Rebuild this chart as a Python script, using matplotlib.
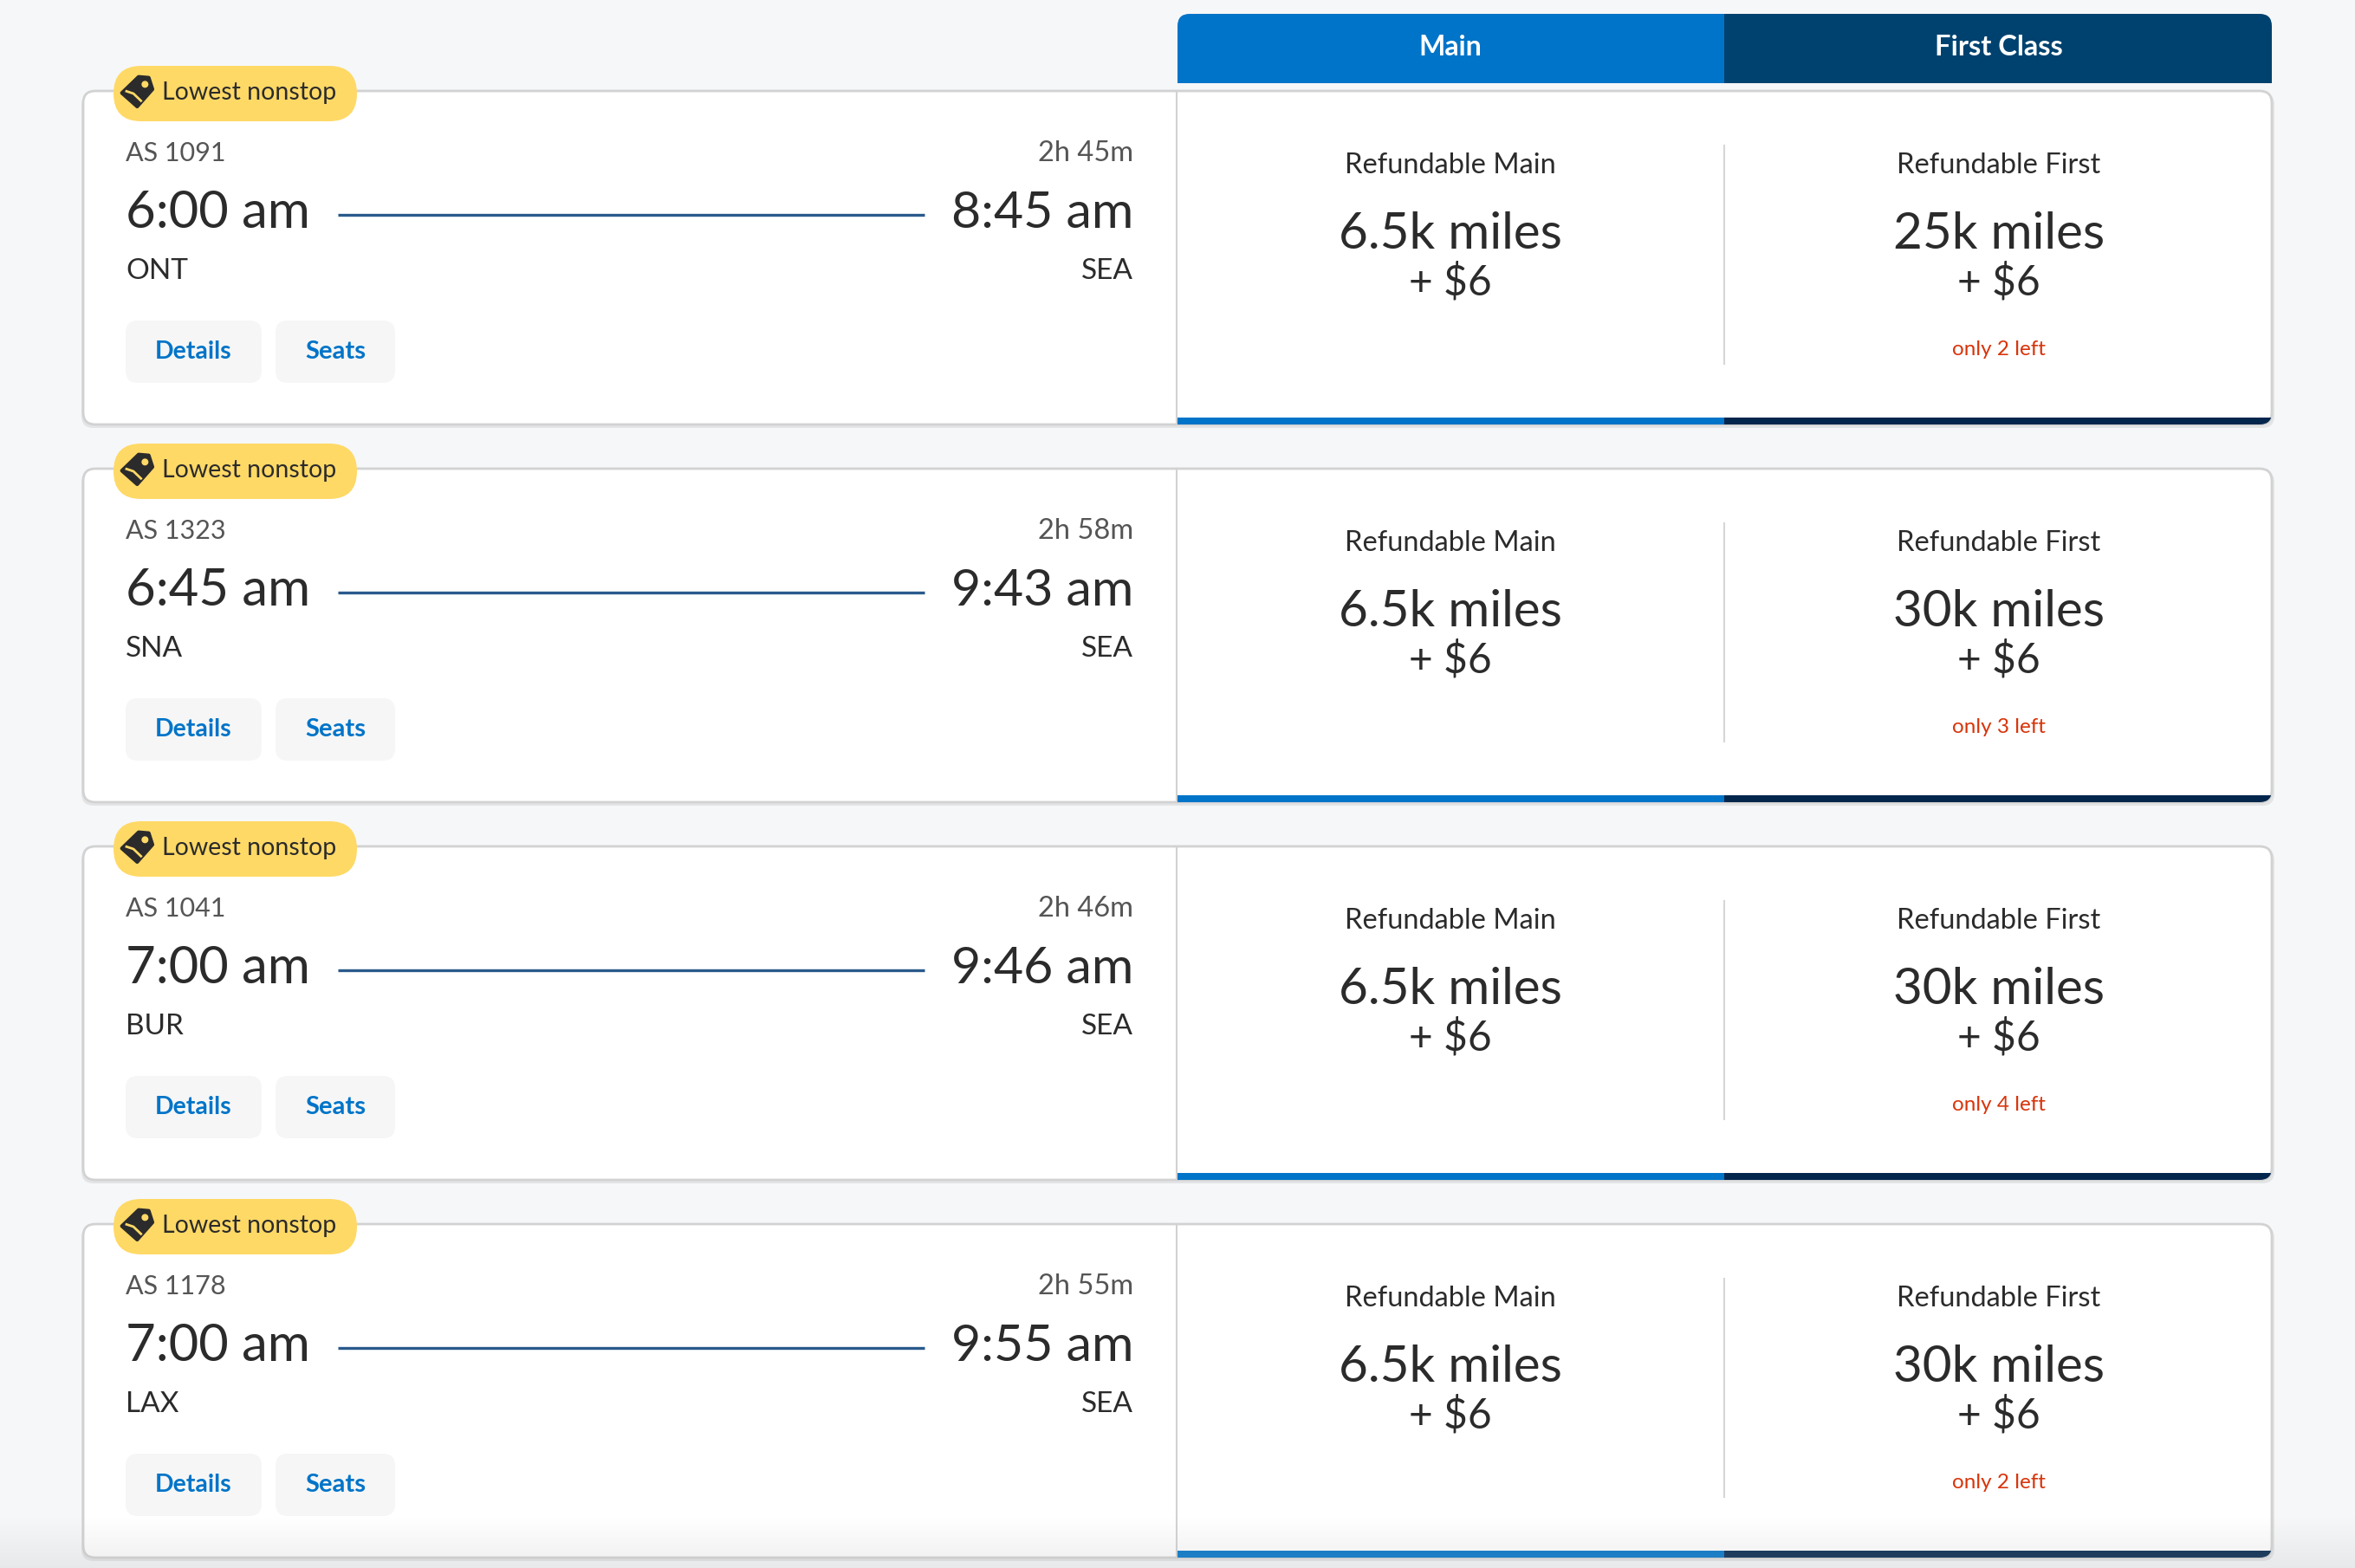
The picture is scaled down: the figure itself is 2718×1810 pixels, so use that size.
import numpy as np
import matplotlib
matplotlib.use("Agg")
import matplotlib.pyplot as plt
from matplotlib.patches import FancyBboxPatch, Rectangle, Polygon, Circle

plt.rcParams["font.family"] = ["Lato", "DejaVu Sans"]

flights = ["AS 1091", "AS 1323", "AS 1041", "AS 1178"]
durations = ["2h 45m", "2h 58m", "2h 46m", "2h 55m"]
departs = ["6:00 am", "6:45 am", "7:00 am", "7:00 am"]
arrives = ["8:45 am", "9:43 am", "9:46 am", "9:55 am"]
origins = ["ONT", "SNA", "BUR", "LAX"]
destinations = ["SEA", "SEA", "SEA", "SEA"]
main_miles = ["6.5k miles", "6.5k miles", "6.5k miles", "6.5k miles"]
first_miles = ["25k miles", "30k miles", "30k miles", "30k miles"]
fees = ["+ $6", "+ $6", "+ $6", "+ $6"]
seats_left = ["only 2 left", "only 3 left", "only 4 left", "only 2 left"]
cabins = ["Main", "First Class"]

BG = "#f6f7f9"
INK = "#2b2b2b"
BLUE = "#0074c8"
NAVY = "#00426f"
DARK_BAR = "#03264d"
GREY_TEXT = "#555555"
RED = "#d8350b"

W, H = 2718, 1810
LEFT, RIGHT, DIV, MID = 96, 2622, 1359, 1990
MAIN_X, FIRST_X = 1674, 2307
PITCH = 436
CARD_H = 385

fig = plt.figure(figsize=(W / 100, H / 100), dpi=100, facecolor=BG)
ax = fig.add_axes([0, 0, 1, 1])
ax.set_xlim(0, W)
ax.set_ylim(H, 0)
ax.axis("off")


def rounded(x0, y0, x1, y1, r, **kw):
    p = FancyBboxPatch((x0 + r, y0 + r), x1 - x0 - 2 * r, y1 - y0 - 2 * r,
                       boxstyle=f"round,pad={r},rounding_size={r}", **kw)
    ax.add_patch(p)
    return p


def label(x, y, s, size, color=INK, ha="left", weight="normal"):
    return ax.text(x, y, s, fontsize=size, color=color, ha=ha, va="baseline",
                   fontweight=weight, zorder=6)


def draw_tag(top):
    # tag icon outline, traced from the badge
    y0 = top - 57
    pts = [(240, 122), (275, 125), (288, 165), (235, 225), (182, 178)]
    xy = [(80 + x / 3, y0 + y / 3) for x, y in pts]
    ax.add_patch(Polygon(xy, closed=True, fc=INK, ec=INK, lw=3, joinstyle="round", zorder=6))
    ax.add_patch(Circle((80 + 262 / 3, y0 + 148 / 3), 4, fc="#ffd966", ec="none", zorder=7))
    ax.plot([80 + 198 / 3, 80 + 222 / 3, 80 + 248 / 3],
            [y0 + 172 / 3, y0 + 180 / 3, y0 + 205 / 3],
            color="#ffd966", lw=2, zorder=7)


# cabin header
header = rounded(DIV, 16, RIGHT, 120, 14, fc="none", ec="none")
for x0, x1, c in [(DIV, MID, BLUE), (MID, RIGHT, NAVY)]:
    r = Rectangle((x0, 16), x1 - x0, 80, fc=c, ec="none", zorder=2)
    ax.add_patch(r)
    r.set_clip_path(header)
label(MAIN_X, 64, cabins[0], 23, "white", "center", "bold")
label(FIRST_X, 64, cabins[1], 23.5, "white", "center", "bold")

fig.canvas.draw()
renderer = fig.canvas.get_renderer()

for i in range(len(flights)):
    top = 105 + i * PITCH
    bottom = top + CARD_H

    rounded(LEFT - 2, top + 2, RIGHT + 3, bottom + 4, 14, fc="#e3e4e6", ec="none", zorder=1)
    card = rounded(LEFT, top, RIGHT, bottom, 14, fc="white", ec="#d2d2d2", lw=2, zorder=2)
    ax.plot([DIV - 1, DIV - 1], [top, bottom], color="#d2d2d2", lw=1.5, zorder=3)
    ax.plot([MID, MID], [top + 63, top + 315], color="#d6d6d6", lw=1.5, zorder=3)

    for x0, x1, c in [(DIV, MID, BLUE), (MID, RIGHT, DARK_BAR)]:
        bar = Rectangle((x0, bottom - 8), x1 - x0, 8, fc=c, ec="none", zorder=4)
        ax.add_patch(bar)
        bar.set_clip_path(card)

    # badge
    rounded(131, top - 29, 412, top + 35, 32, fc="#ffd966", ec="none", zorder=5)
    draw_tag(top)
    label(187, top + 10, "Lowest nonstop", 20.5, INK)

    # left side
    label(145, top + 81, flights[i], 22, GREY_TEXT)
    label(1308, top + 81, durations[i], 23.5, GREY_TEXT, "right")
    t0 = label(145, top + 158, departs[i], 43)
    t1 = label(1308, top + 158, arrives[i], 42.5, ha="right")
    label(145, top + 217, origins[i], 24)
    label(1308, top + 217, destinations[i], 24, ha="right")

    x_a = t0.get_window_extent(renderer).x1 + 32
    x_b = t1.get_window_extent(renderer).x0 - 31
    ax.plot([x_a, x_b], [top + 143, top + 143], color="#2a5a8c", lw=2.4,
            solid_capstyle="butt", zorder=4)

    # buttons
    rounded(145, top + 265, 302, top + 337, 14, fc="#f6f6f6", ec="none", zorder=4)
    rounded(318, top + 265, 456, top + 337, 14, fc="#f6f6f6", ec="none", zorder=4)
    label(223.5, top + 309, "Details", 20.5, BLUE, "center", "bold")
    label(387, top + 309, "Seats", 21, BLUE, "center", "bold")

    # fares
    label(MAIN_X, top + 95, "Refundable Main", 23.5, ha="center")
    label(MAIN_X, top + 182, main_miles[i], 42, ha="center")
    label(MAIN_X, top + 235, fees[i], 34.5, ha="center")
    label(FIRST_X, top + 95, "Refundable First", 23.5, ha="center")
    label(FIRST_X, top + 182, first_miles[i], 42, ha="center")
    label(FIRST_X, top + 235, fees[i], 34.5, ha="center")
    label(FIRST_X, top + 305, seats_left[i], 17.5, RED, "center")

# soft fade along the bottom edge
fade = np.zeros((60, 1, 4))
fade[:, :, :3] = 0.72
fade[:, 0, 3] = np.linspace(0, 0.22, 60)
ax.imshow(fade, extent=(0, W, H, H - 60), aspect="auto", zorder=8)
ax.set_xlim(0, W)
ax.set_ylim(H, 0)

fig.savefig("out.png", dpi=100, facecolor=BG)
plt.close(fig)
